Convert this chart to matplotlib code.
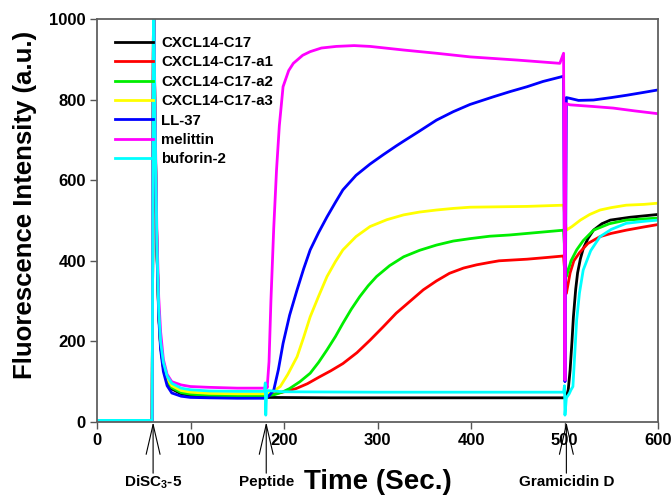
import matplotlib
matplotlib.use("Agg")
import matplotlib.pyplot as plt

plt.rcParams['font.family'] = ['Liberation Sans', 'DejaVu Sans']
plt.rcParams['font.weight'] = 'bold'
plt.rcParams['mathtext.fontset'] = 'custom'
plt.rcParams['mathtext.rm'] = 'Liberation Sans:bold'
plt.rcParams['mathtext.bf'] = 'Liberation Sans:bold'

# ---- data ----
t_early = [0, 59, 60.5, 62, 64, 66, 68, 71, 75, 80, 90, 100, 120, 150, 180]

black_t = t_early + [250, 350, 450, 500, 502, 504, 506, 508, 509.5, 512, 514, 517, 520, 525, 531, 540, 549, 570, 600]
black_y = [4, 4, 1100, 750, 440, 270, 190, 135, 100, 82, 70, 66, 63, 62, 61,
           60, 60, 60, 60, 62, 80, 129, 200, 260, 330, 370, 405, 430, 455, 476, 492, 501, 508, 515]

red_t = t_early + [190, 200, 213, 225, 238, 250, 263, 278, 292, 306, 320, 335, 349, 363, 377, 392, 406,
                   420, 430, 460, 480, 499, 502, 506, 510, 516, 525, 538, 550, 566, 585, 600]
red_y = [4, 4, 1100, 750, 440, 270, 192, 138, 104, 87, 75, 71, 68, 67, 67,
         70, 75, 83, 95, 112, 127, 145, 172, 203, 236, 270, 300, 328, 350, 369, 382, 390,
         396, 400, 404, 408, 412, 319, 370, 400, 420, 443, 460, 468, 476, 484, 490]

green_t = t_early + [190, 198, 206, 217, 228, 237, 246, 255, 263, 272, 281, 290, 299, 313, 328, 345, 363,
                     381, 399, 420, 441, 470, 499, 502, 507, 513, 520, 531, 548, 566, 585, 600]
green_y = [4, 4, 1100, 750, 440, 270, 190, 137, 102, 85, 73, 69, 66, 65, 65,
           68, 74, 83, 100, 121, 148, 179, 212, 245, 280, 311, 338, 361, 388, 410, 426, 439,
           449, 455, 461, 464, 470, 476, 361, 400, 427, 450, 476, 492, 501, 504, 506]

yellow_t = t_early + [186, 191, 196, 204, 214, 221, 228, 237, 246, 255, 263, 277, 292, 310, 328, 345, 363,
                      381, 399, 430, 460, 499, 502, 508, 517, 527, 538, 550, 566, 585, 600]
yellow_y = [4, 4, 1100, 755, 445, 275, 195, 142, 108, 90, 78, 74, 71, 70, 70,
            74, 80, 88, 118, 162, 210, 261, 312, 361, 398, 427, 460, 485, 502, 514, 521, 526,
            530, 533, 534, 535, 538, 476, 485, 501, 515, 526, 532, 538, 540, 543]

blue_t = t_early + [184, 189, 194, 199, 206, 214, 221, 228, 237, 246, 255, 263, 277, 292, 306, 320, 328,
                    345, 363, 381, 399, 424, 442, 460, 477, 499, 500.5, 502, 506, 515, 531, 550, 567,
                    585, 600]
blue_y = [4, 4, 1100, 740, 430, 260, 180, 125, 90, 72, 64, 61, 60, 59, 59,
          65, 79, 130, 195, 265, 328, 380, 427, 470, 509, 545, 576, 612, 640, 663, 685, 697,
          722, 749, 770, 788, 807, 820, 832, 845, 858, 100, 805, 803, 798, 799, 805, 811,
          818, 824]

mel_t = t_early + [181, 182, 184, 186, 189, 192, 195, 199, 205, 210, 220, 228, 240, 256, 275, 292, 328,
                   363, 399, 450, 495, 499, 500.5, 501.5, 506, 530, 552, 575, 600]
mel_y = [4, 4, 1100, 780, 480, 310, 225, 155, 118, 100, 92, 88, 86, 84, 84,
         95, 85, 150, 300, 480, 625, 735, 832, 872, 890, 910, 919, 928, 932, 934, 932, 923,
         915, 906, 898, 890, 915, 104, 790, 787, 783, 779, 772, 765]

cyan_t = [0, 59, 60.5, 62, 64, 66, 68, 71, 75, 80, 90, 100, 120, 150, 179, 180, 180.5, 181.5,
          200, 300, 400, 499, 500, 500.5, 502, 505, 507, 509, 511, 513, 516, 520, 528, 538, 550,
          566, 585, 600]
cyan_y = [4, 4, 1100, 760, 450, 280, 200, 148, 114, 96, 84, 80, 77, 76, 76, 97, 17, 78,
          75, 74, 74, 74, 90, 17, 60, 70, 80, 88, 170, 253, 320, 377, 425, 460, 478,
          493, 498, 501]

series = [
    ("CXCL14-C17", black_t, black_y, "#000000"),
    ("CXCL14-C17-a1", red_t, red_y, "#ff0000"),
    ("CXCL14-C17-a2", green_t, green_y, "#00ee00"),
    ("CXCL14-C17-a3", yellow_t, yellow_y, "#ffff00"),
    ("LL-37", blue_t, blue_y, "#0000ff"),
    ("melittin", mel_t, mel_y, "#ff00ff"),
    ("buforin-2", cyan_t, cyan_y, "#00ffff"),
]

events = [(60, "DiSC$_{3}$-5"), (181, "Peptide"), (502, "Gramicidin D")]

x_ticks = [0, 100, 200, 300, 400, 500, 600]
y_ticks = [0, 200, 400, 600, 800, 1000]

# ---- figure ----
fig = plt.figure(figsize=(6.72, 4.95), dpi=100)
ax = fig.add_axes([97/672, 1-422/495, 561/672, 403/495])

for name, t, y, c in series:
    ax.plot(t, y, color=c, lw=2.0, label=name)

ax.set_xlim(0, 600)
ax.set_ylim(0, 1000)
ax.set_xticks(x_ticks)
ax.set_yticks(y_ticks)
ax.tick_params(direction='out', length=5, width=1.0, color='#555555', labelsize=12, pad=3)
for lab in ax.get_xticklabels() + ax.get_yticklabels():
    lab.set_fontweight('bold')
for sp in ax.spines.values():
    sp.set_color('#606060')
    sp.set_linewidth(1.3)

leg = ax.legend(loc='upper left', bbox_to_anchor=(115/672, 1-36/495),
                bbox_transform=fig.transFigure, frameon=False, fontsize=10.8,
                handlelength=2.5, handletextpad=0.6, labelspacing=0.36,
                borderpad=0, borderaxespad=0)
for txt in leg.get_texts():
    txt.set_fontweight('bold')

trans = ax.get_xaxis_transform()
for xe, lab in events:
    ax.annotate('', xy=(xe, 0), xycoords=trans, xytext=(xe, -0.127), textcoords=trans,
                arrowprops=dict(arrowstyle='->,head_length=2.15,head_width=0.5', lw=0.8,
                                color='black', shrinkA=0, shrinkB=0, mutation_scale=10),
                annotation_clip=False)
    ax.text(xe, -0.149, lab, transform=trans, ha='center', va='center',
            fontsize=11, fontweight='bold')

ax.text(300.5, -0.149, "Time (Sec.)", transform=trans, ha='center', va='center',
        fontsize=20, fontweight='bold')
fig.text(25/672, 1-204.5/495, "Fluorescence Intensity (a.u.)", rotation=90,
         ha='center', va='center', fontsize=18.5, fontweight='bold')

fig.savefig("out.png", dpi=100)
